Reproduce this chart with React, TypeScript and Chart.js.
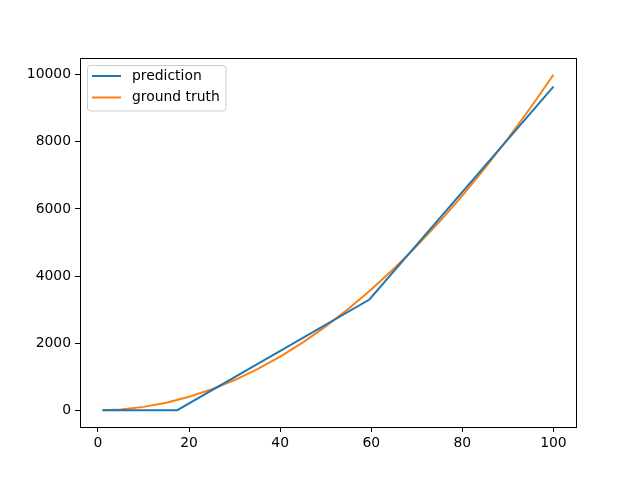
import React, { useEffect, useRef } from "react";
import { Chart, registerables } from "chart.js";

Chart.register(...registerables);

const predX = [1, 17.4, 59.6, 100];
const predY = [0, 0, 3300, 9645];

const truthX = [1, 5, 10, 15, 20, 25, 30, 35, 40, 45, 50, 55, 60, 65, 70, 75, 80, 85, 90, 95, 100];
const truthY = [1, 25, 100, 225, 400, 625, 900, 1225, 1600, 2025, 2500, 3025, 3600, 4225, 4900, 5625, 6400, 7225, 8100, 9025, 10000];

const xTicks = [0, 20, 40, 60, 80, 100];
const yTicks = [0, 2000, 4000, 6000, 8000, 10000];

const seriesNames = ["prediction", "ground truth"];
const seriesColors = ["#1f77b4", "#ff7f0e"];

const FONT = "'DejaVu Sans', sans-serif";

const framePlugin = {
  id: "frame",
  afterDatasetsDraw(chart: any) {
    const { ctx, chartArea } = chart;
    ctx.save();
    ctx.strokeStyle = "#000";
    ctx.lineWidth = 1;
    ctx.strokeRect(
      Math.round(chartArea.left) + 0.5,
      Math.round(chartArea.top) + 0.5,
      Math.round(chartArea.right - chartArea.left),
      Math.round(chartArea.bottom - chartArea.top)
    );
    ctx.restore();
  },
};

const legendPlugin = {
  id: "mplLegend",
  afterDraw(chart: any) {
    const { ctx, chartArea } = chart;
    const x0 = chartArea.left + 7;
    const y0 = chartArea.top + 7;
    const w = 139;
    const h = 46;
    ctx.save();
    ctx.fillStyle = "rgba(255,255,255,0.8)";
    ctx.strokeStyle = "rgba(204,204,204,1)";
    ctx.lineWidth = 1;
    const r = 3;
    ctx.beginPath();
    ctx.moveTo(x0 + r, y0 + 0.5);
    ctx.arcTo(x0 + w, y0 + 0.5, x0 + w, y0 + h, r);
    ctx.arcTo(x0 + w, y0 + h, x0, y0 + h, r);
    ctx.arcTo(x0 + 0.5, y0 + h, x0 + 0.5, y0, r);
    ctx.arcTo(x0 + 0.5, y0 + 0.5, x0 + w, y0 + 0.5, r);
    ctx.closePath();
    ctx.fill();
    ctx.stroke();
    ctx.font = `13.9px ${FONT}`;
    ctx.textBaseline = "middle";
    ctx.fillStyle = "#000";
    seriesNames.forEach((name, i) => {
      const yy = y0 + 11 + i * 21.5;
      ctx.strokeStyle = seriesColors[i];
      ctx.lineWidth = 2;
      ctx.beginPath();
      ctx.moveTo(x0 + 5, yy);
      ctx.lineTo(x0 + 34, yy);
      ctx.stroke();
      ctx.fillText(name, x0 + 45, yy);
    });
    ctx.restore();
  },
};

export default function App() {
  const ref = useRef<HTMLCanvasElement | null>(null);
  useEffect(() => {
    document.body.style.margin = "0";
    const canvas = ref.current!;
    const chart = new Chart(canvas, {
      type: "line",
      data: {
        datasets: [
          {
            label: seriesNames[0],
            data: predX.map((x, i) => ({ x, y: predY[i] })),
            borderColor: seriesColors[0],
            backgroundColor: seriesColors[0],
            borderWidth: 2,
            pointRadius: 0,
            tension: 0,
          },
          {
            label: seriesNames[1],
            data: truthX.map((x, i) => ({ x, y: truthY[i] })),
            borderColor: seriesColors[1],
            backgroundColor: seriesColors[1],
            borderWidth: 2,
            pointRadius: 0,
            tension: 0,
          },
        ],
      },
      options: {
        animation: false,
        responsive: false,
        maintainAspectRatio: false,
        devicePixelRatio: 1,
        layout: { padding: { top: 58, right: 64, left: 0, bottom: 0 } },
        plugins: { legend: { display: false }, tooltip: { enabled: false } },
        scales: {
          x: {
            type: "linear",
            min: -3.95,
            max: 104.95,
            afterBuildTicks: (s: any) => {
              s.ticks = xTicks.map((v) => ({ value: v }));
            },
            afterFit: (s: any) => {
              s.height = 53;
            },
            ticks: {
              color: "#000",
              font: { family: FONT, size: 13.9 },
              padding: 3,
              maxRotation: 0,
              autoSkip: false,
            },
            grid: {
              display: true,
              drawOnChartArea: false,
              drawTicks: true,
              tickLength: 5,
              tickColor: "#000",
              tickWidth: 1,
            },
            border: { display: true, color: "#000", width: 1 },
          },
          y: {
            type: "linear",
            min: -500,
            max: 10500,
            afterBuildTicks: (s: any) => {
              s.ticks = yTicks.map((v) => ({ value: v }));
            },
            afterFit: (s: any) => {
              s.width = 80;
            },
            ticks: {
              color: "#000",
              font: { family: FONT, size: 13.9 },
              padding: 4,
              autoSkip: false,
              callback: (v: any) => String(v),
            },
            grid: {
              display: true,
              drawOnChartArea: false,
              drawTicks: true,
              tickLength: 5,
              tickColor: "#000",
              tickWidth: 1,
            },
            border: { display: true, color: "#000", width: 1 },
          },
        },
      },
      plugins: [framePlugin, legendPlugin],
    });
    return () => chart.destroy();
  }, []);
  return (
    <div style={{ position: "absolute", left: 0, top: 0, width: 640, height: 480, background: "#fff" }}>
      <canvas ref={ref} width={640} height={480} style={{ width: 640, height: 480, display: "block" }} />
    </div>
  );
}
